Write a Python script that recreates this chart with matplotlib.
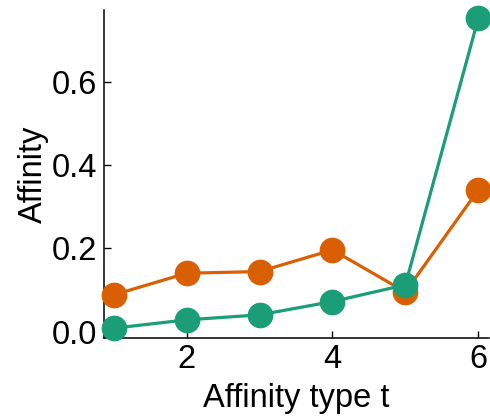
import matplotlib
matplotlib.use("Agg")
import matplotlib.pyplot as plt

# Affinity by type for two groups
affinity_type = [1, 2, 3, 4, 5, 6]
affinity_orange = [0.088, 0.140, 0.144, 0.196, 0.095, 0.340]
affinity_green = [0.008, 0.028, 0.040, 0.072, 0.112, 0.752]
x_ticks = [2, 4, 6]
y_ticks = [0.0, 0.2, 0.4, 0.6]
y_tick_labels = ["0.0", "0.2", "0.4", "0.6"]

plt.rcParams["font.family"] = ["Liberation Sans", "DejaVu Sans"]

fig = plt.figure(figsize=(4.9, 4.17), dpi=100)
ax = fig.add_axes([0.212, 0.189, 0.786, 0.787])

ax.plot(affinity_type, affinity_orange, "-o", color="#D95F02", lw=2.3,
        ms=17.5, clip_on=False, zorder=3)
ax.plot(affinity_type, affinity_green, "-o", color="#1B9E77", lw=2.3,
        ms=17.5, clip_on=False, zorder=4)

ax.set_xlim(0.866, 6.147)
ax.set_ylim(-0.016, 0.772)
ax.set_xticks(x_ticks)
ax.set_yticks(y_ticks)
ax.set_yticklabels(y_tick_labels)
ax.tick_params(direction="in", length=5, width=1, labelsize=23.5)
ax.tick_params(axis="y", pad=5)
ax.tick_params(axis="x", pad=4)

for side in ("top", "right"):
    ax.spines[side].set_visible(False)
for side in ("left", "bottom"):
    ax.spines[side].set_linewidth(1.1)

ax.set_xlabel("Affinity type t", fontsize=23.5, labelpad=6)
ax.set_ylabel("Affinity", fontsize=23.5, labelpad=2)

fig.savefig("out.png", dpi=100)
